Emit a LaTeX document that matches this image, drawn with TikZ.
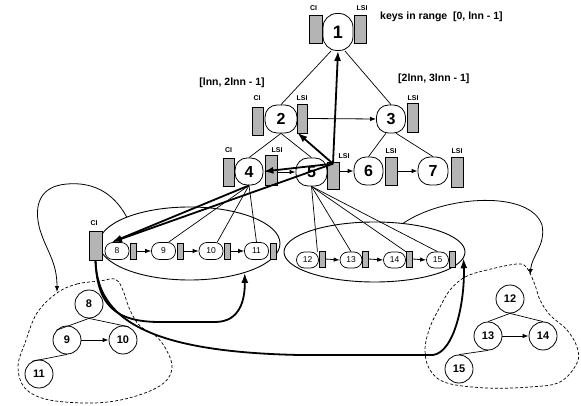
\documentclass[tikz,border=0pt]{standalone}
\usepackage{fontspec}
\setmainfont{Liberation Sans}
\usetikzlibrary{arrows.meta,shapes.geometric}
\definecolor{rectgray}{RGB}{180,180,180}
\begin{document}
\begin{tikzpicture}[x=1pt,y=-1pt,
  bignode/.style={draw,line width=0.8pt,rounded corners=12pt,minimum width=30pt,minimum height=28pt,inner sep=0pt,font=\fontsize{16}{16}\selectfont\bfseries},
  listnode/.style={draw,line width=0.7pt,rounded corners=8pt,minimum width=24pt,minimum height=17pt,inner sep=0pt,font=\fontsize{8.5}{8.5}\selectfont},
  treenode/.style={draw,line width=0.8pt,circle,minimum size=28pt,inner sep=0pt,font=\fontsize{11}{11}\selectfont\bfseries},
  grayrect/.style={draw,line width=0.6pt,fill=rectgray,inner sep=0pt},
  lbl/.style={font=\fontsize{7}{7}\selectfont\bfseries,inner sep=0pt},
  rangelbl/.style={font=\fontsize{10.5}{10.5}\selectfont\bfseries,inner sep=0pt},
  thinline/.style={line width=0.7pt},
  thinarrow/.style={line width=0.8pt,-{Latex[length=6pt,width=4.5pt]}},
  thickarrow/.style={line width=1.8pt,-{Latex[length=10pt,width=7pt]}},
  blob/.style={line width=0.7pt,dash pattern=on 3pt off 2pt}
]
\useasboundingbox (0,0) rectangle (581,406);

% upper tree
\node[bignode,minimum height=37pt,rounded corners=14pt,font=\fontsize{18}{18}\selectfont\bfseries] (n1) at (338,32) {1};
\node[grayrect,minimum width=13pt,minimum height=28pt] (c1) at (315.5,29) {};
\node[grayrect,minimum width=12pt,minimum height=28pt] (l1) at (360,29) {};
\node[lbl] (c1t) at (313.5,8) {CI};
\node[lbl] (l1t) at (362,8) {LSI};

\node[bignode,minimum width=32pt] (n2) at (281,119) {2};
\node[grayrect,minimum width=11pt,minimum height=28pt] (c2) at (257.5,121) {};
\node[grayrect,minimum width=10pt,minimum height=29pt] (l2) at (302,118.5) {};
\node[lbl] (c2t) at (257,98) {CI};
\node[lbl] (l2t) at (302,98) {LSI};

\node[bignode,minimum width=29pt] (n3) at (391,119) {3};
\node[grayrect,minimum width=11pt,minimum height=29pt] (l3) at (412.5,117.5) {};
\node[lbl] (l3t) at (413,98) {LSI};

\node[bignode,minimum width=28pt,minimum height=27pt] (n4) at (249,171.5) {4};
\node[grayrect,minimum width=11pt,minimum height=28pt] (c4) at (228.5,172) {};
\node[grayrect,minimum width=12pt,minimum height=30pt] (l4) at (271,170) {};
\node[lbl] (c4t) at (228.5,150) {CI};
\node[lbl] (l4t) at (277,150) {LSI};

\node[bignode,minimum width=31pt] (n5) at (311.5,172) {5};
\node[grayrect,minimum width=12pt,minimum height=27pt] (l5) at (333,175.5) {};
\node[lbl] (l5t) at (344,156) {LSI};

\node[bignode,minimum width=29pt] (n6) at (368.5,171) {6};
\node[grayrect,minimum width=12pt,minimum height=28pt] (l6) at (391,171) {};
\node[lbl] (l6t) at (391,151) {LSI};

\node[bignode] (n7) at (433,171) {7};
\node[grayrect,minimum width=12pt,minimum height=30pt] (l7) at (457,172) {};
\node[lbl] (l7t) at (457,151) {LSI};

\node[rangelbl,anchor=west] (r1) at (380,17) {keys in range\ \ [0, lnn - 1]};
\node[rangelbl] (r2) at (232,83) {[lnn, 2lnn - 1]};
\node[rangelbl,anchor=west] (r3) at (398,79) {[2lnn, 3lnn - 1]};

\draw[thinline] (n1.250) -- (n2.north);
\draw[thinline] (n1.290) -- (n3.north);
\draw[thinline] (n2.south) -- (n4.north);
\draw[thinline] (n2.south) -- (n5.north);
\draw[thinline] (n3.250) -- (n6.north);
\draw[thinline] (n3.290) -- (n7.north);

\draw[thinarrow] (l2.east) -- (n3.west);
\draw[thinarrow] (l4.east |- n5.west) -- (n5.west);
\draw[thinarrow] (l5.east |- n6.west) -- (n6.west);
\draw[thinarrow] (l6.east) -- (n7.west);

% left list
\node[draw,line width=0.9pt,ellipse,minimum width=181pt,minimum height=73pt,inner sep=0pt] (ellL) at (189.5,243.5) {};
\node[grayrect,minimum width=13pt,minimum height=29pt] (lci) at (95.5,245.5) {};
\node[lbl] (lcit) at (94,223) {CI};
\node[listnode] (a8) at (117,251) {8};
\node[grayrect,minimum width=6pt,minimum height=16pt] (r8) at (133,251) {};
\node[listnode] (a9) at (163.5,251) {9};
\node[grayrect,minimum width=6pt,minimum height=16pt] (r9) at (180,251) {};
\node[listnode] (a10) at (211,251) {10};
\node[grayrect,minimum width=6pt,minimum height=16pt] (r10) at (227,251) {};
\node[listnode] (a11) at (256.5,251) {11};
\node[grayrect,minimum width=6pt,minimum height=16pt] (r11) at (273,251) {};
\draw[thinarrow] (r8.east) -- (a9.west);
\draw[thinarrow] (r9.east) -- (a10.west);
\draw[thinarrow] (r10.east) -- (a11.west);

% right list
\node[draw,line width=0.9pt,ellipse,minimum width=181pt,minimum height=60pt,inner sep=0pt] (ellR) at (374.5,252) {};
\node[listnode,minimum width=22pt,minimum height=16pt] (a12) at (307.5,260) {12};
\node[grayrect,minimum width=6pt,minimum height=16pt] (r12) at (322,259) {};
\node[listnode,minimum width=22pt,minimum height=16pt] (a13) at (351,260) {13};
\node[grayrect,minimum width=6pt,minimum height=16pt] (r13) at (365.5,259) {};
\node[listnode,minimum width=22pt,minimum height=16pt] (a14) at (394.5,260) {14};
\node[grayrect,minimum width=6pt,minimum height=16pt] (r14) at (409.5,259) {};
\node[listnode,minimum width=22pt,minimum height=16pt] (a15) at (437.5,260) {15};
\node[grayrect,minimum width=6pt,minimum height=16pt] (r15) at (452.5,259) {};
\draw[thinarrow] (r12.east) -- (a13.west);
\draw[thinarrow] (r13.east) -- (a14.west);
\draw[thinarrow] (r14.east) -- (a15.west);

% links from 4 and 5 to lists
\draw[thinline] (n4.south) -- (a9.60);
\draw[thinline] (n4.south) -- (a10.55);
\draw[thinline] (n4.south) -- (a11.north);
\draw[thinline] (n5.south) -- (a12.40);
\draw[thinline] (n5.south) -- (a13.north);
\draw[thinline] (n5.south) -- (a14.north east);
\draw[thinline] (n5.south) -- (a15.north);

% thick arrows
\draw[thickarrow] ([yshift=-2pt]l5.north) -- (n1.south);
\draw[thickarrow] ([yshift=-2pt]l5.north) -- (n2.-40);
\draw[thickarrow] ([yshift=-2pt]l5.north) -- (n4.east);
\draw[thickarrow] ([yshift=-2pt]l5.north) -- (a8.120);
\draw[thickarrow] (n4.south) -- (a8.120);

% trees
\node[treenode] (t8) at (89,304) {8};
\node[treenode] (t9) at (67,340) {9};
\node[treenode] (t10) at (123,340) {10};
\node[treenode] (t11) at (39,374) {11};
\draw[thinline] (t8.south) -- (t9.137);
\draw[thinline] (t8.south) -- (t10.67);
\draw[thinline] (t9.south) -- (t11.118);
\draw[thinarrow] (t9.east) -- (t10.west);

\node[treenode] (t12) at (510,299) {12};
\node[treenode] (t13) at (488,336) {13};
\node[treenode] (t14) at (543,336) {14};
\node[treenode] (t15) at (459,369) {15};
\draw[thinline] (t12.south) -- (t13.north);
\draw[thinline] (t12.south) -- (t14.north);
\draw[thinline] (t13.south) -- (t15.north);
\draw[thinarrow] (t13.east) -- (t14.west);

% dashed blobs
\draw[blob] plot[smooth cycle,tension=0.6] coordinates {(57,293) (77,284) (100,281) (115,279) (122,288) (130,310) (140,326) (157,337) (168,353) (172,368) (165,382) (145,393) (115,401) (83,403) (45,399) (24,387) (18,366) (25,343) (37,313)};
\draw[blob] plot[smooth cycle,tension=0.6] coordinates {(517,264) (487,270) (465,277) (450,290) (440,307) (430,327) (425,350) (430,370) (447,383) (487,388) (530,387) (560,382) (577,363) (577,347) (567,330) (550,315) (540,300) (535,285) (527,268)};
\coordinate (bl) at (57,292);
\coordinate (br) at (530,275);

% curved connectors
\draw[thinarrow] (ellL.157) .. controls (112,190) and (90,182) .. (67,184) .. controls (40,186) and (33,205) .. (40,230) .. controls (47,252) and (57,262) .. (bl);
\draw[thinarrow] (ellR.45) .. controls (445,195) and (530,190) .. (542,225) .. controls (546,245) and (532,255) .. (br);
\draw[thickarrow] (lci.south) .. controls (97,305) and (115,322) .. (160,322) -- (215,322) .. controls (240,322) and (245,300) .. (ellL.-28);
\draw[thickarrow] (lci.south) .. controls (97,320) and (150,352) .. (300,355) -- (433,355) .. controls (455,352) and (465,300) .. (ellR.-4);
\end{tikzpicture}
\end{document}
